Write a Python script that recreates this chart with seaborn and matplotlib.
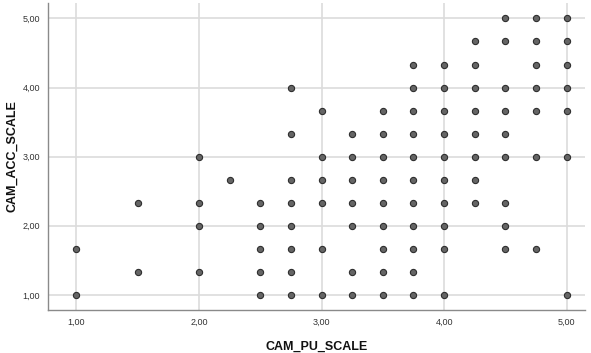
import matplotlib
matplotlib.use("Agg")
import matplotlib.pyplot as plt
from matplotlib.ticker import FuncFormatter
import seaborn as sns
import pandas as pd

# CAM_PU_SCALE values (x) and matching CAM_ACC_SCALE values (y)
pu_scale = [
    1.00, 1.00,
    1.50, 1.50,
    2.00, 2.00, 2.00, 2.00,
    2.25,
    2.50, 2.50, 2.50, 2.50, 2.50,
    2.75, 2.75, 2.75, 2.75, 2.75, 2.75, 2.75, 2.75,
    3.00, 3.00, 3.00, 3.00, 3.00, 3.00,
    3.25, 3.25, 3.25, 3.25, 3.25, 3.25, 3.25,
    3.50, 3.50, 3.50, 3.50, 3.50, 3.50, 3.50, 3.50, 3.50,
    3.75, 3.75, 3.75, 3.75, 3.75, 3.75, 3.75, 3.75, 3.75, 3.75, 3.75,
    4.00, 4.00, 4.00, 4.00, 4.00, 4.00, 4.00, 4.00, 4.00, 4.00,
    4.25, 4.25, 4.25, 4.25, 4.25, 4.25, 4.25, 4.25,
    4.50, 4.50, 4.50, 4.50, 4.50, 4.50, 4.50, 4.50, 4.50,
    4.75, 4.75, 4.75, 4.75, 4.75, 4.75, 4.75,
    5.00, 5.00, 5.00, 5.00, 5.00, 5.00, 5.00,
]
acc_scale = [
    1.00, 1.667,
    1.333, 2.333,
    1.333, 2.00, 2.333, 3.00,
    2.667,
    1.00, 1.333, 1.667, 2.00, 2.333,
    1.00, 1.333, 1.667, 2.00, 2.333, 2.667, 3.333, 4.00,
    1.00, 1.667, 2.333, 2.667, 3.00, 3.667,
    1.00, 1.333, 2.00, 2.333, 2.667, 3.00, 3.333,
    1.00, 1.333, 1.667, 2.00, 2.333, 2.667, 3.00, 3.333, 3.667,
    1.00, 1.333, 1.667, 2.00, 2.333, 2.667, 3.00, 3.333, 3.667, 4.00, 4.333,
    1.00, 1.667, 2.00, 2.333, 2.667, 3.00, 3.333, 3.667, 4.00, 4.333,
    2.333, 2.667, 3.00, 3.333, 3.667, 4.00, 4.333, 4.667,
    1.667, 2.00, 2.333, 3.00, 3.333, 3.667, 4.00, 4.667, 5.00,
    1.667, 3.00, 3.667, 4.00, 4.333, 4.667, 5.00,
    1.00, 3.00, 3.667, 4.00, 4.333, 4.667, 5.00,
]
tick_values = [1.00, 2.00, 3.00, 4.00, 5.00]

df = pd.DataFrame({"CAM_PU_SCALE": pu_scale, "CAM_ACC_SCALE": acc_scale})

sns.set_theme(style="white")
plt.rcParams["font.family"] = ["Liberation Sans", "DejaVu Sans"]

fig = plt.figure(figsize=(5.91, 3.53), dpi=100)
ax = fig.add_axes([0.082, 0.122, 0.908, 0.869])

sns.scatterplot(data=df, x="CAM_PU_SCALE", y="CAM_ACC_SCALE", ax=ax,
                s=20, color="#656565", edgecolor="#2e2e2e", linewidth=0.8,
                alpha=1.0, zorder=3)

ax.set_xlim(0.772, 5.15)
ax.set_ylim(0.783, 5.22)
ax.set_xticks(tick_values)
ax.set_yticks(tick_values)
fmt = FuncFormatter(lambda v, p: f"{v:.2f}".replace(".", ","))
ax.xaxis.set_major_formatter(fmt)
ax.yaxis.set_major_formatter(fmt)
ax.tick_params(axis="both", labelsize=6.5, length=0, pad=6, colors="#333333")

ax.grid(True, color="#dcdcdc", linewidth=1.2, zorder=0)
ax.set_axisbelow(True)
for side in ["top", "right"]:
    ax.spines[side].set_visible(False)
for side in ["left", "bottom"]:
    ax.spines[side].set_color("#8a8a8a")
    ax.spines[side].set_linewidth(1.0)

ax.set_xlabel("CAM_PU_SCALE", fontsize=9, fontweight="bold", color="#111111", labelpad=10)
ax.set_ylabel("CAM_ACC_SCALE", fontsize=9, fontweight="bold", color="#111111", labelpad=3)

fig.savefig("out.png", dpi=100)
